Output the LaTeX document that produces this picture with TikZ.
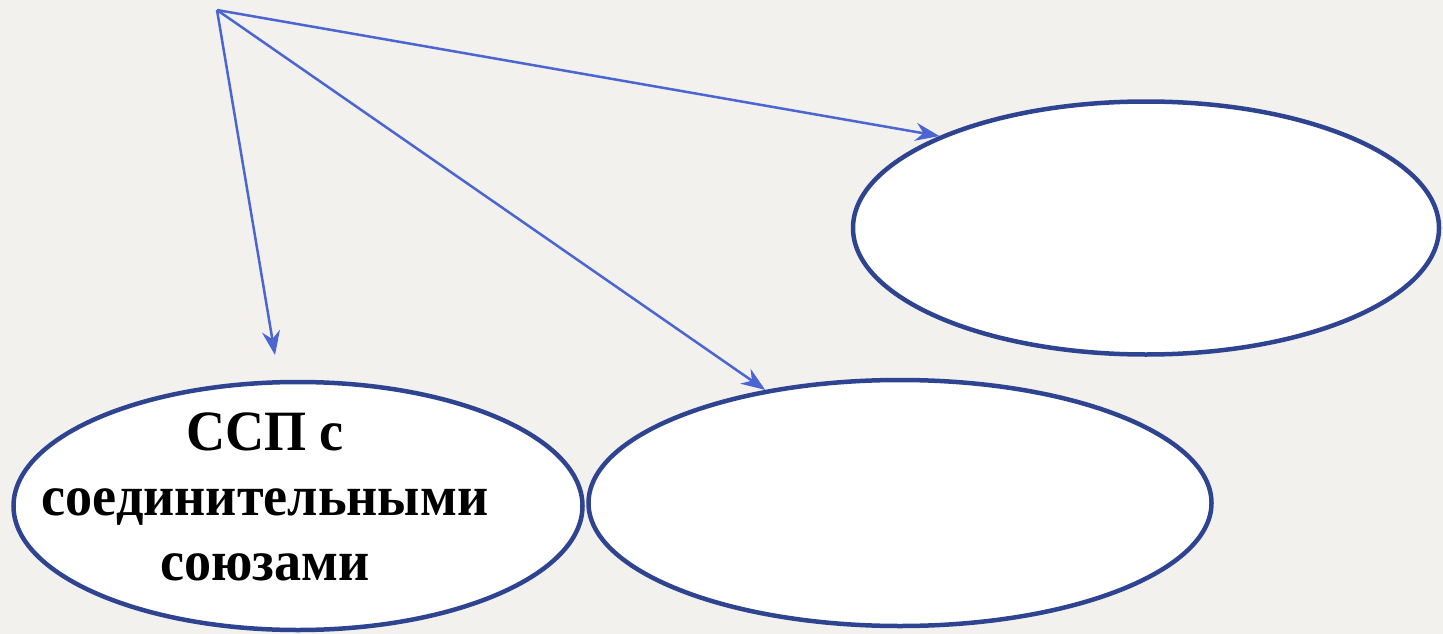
\documentclass[tikz,border=0pt]{standalone}
\usepackage{fontspec}
\setmainfont{Liberation Serif}
\newfontfamily\ovalfont[FakeStretch=0.95]{Liberation Serif}
\usetikzlibrary{shapes.geometric,arrows.meta}
\definecolor{bgcol}{RGB}{242,241,238}
\definecolor{rimcol}{RGB}{47,68,145}
\definecolor{arrcol}{RGB}{75,101,209}
\tikzset{
  oval/.style={ellipse, draw=rimcol, line width=4.5pt, fill=white, inner sep=0pt},
  pointer/.style={draw=arrcol, line width=2.5pt, -{Stealth[length=24pt,width=18pt]}}
}
\begin{document}
\begin{tikzpicture}[x=1pt,y=-1pt]
        % Background
        \fill[bgcol] (0,0) rectangle (1443,634);
        \useasboundingbox (0,0) rectangle (1443,634);

        % Define the ovals
        \node[oval, minimum width=569pt, minimum height=248pt] (E1) at (298,506) {};
        \node[oval, minimum width=623pt, minimum height=246pt] (E2) at (900,503) {};
        \node[oval, minimum width=586pt, minimum height=253pt] (E3) at (1146,228) {};

        \node[align=center, font=\ovalfont\bfseries\fontsize{57}{65}\selectfont] (L1) at (265,497)
            {ССП с\\соединительными\\союзами};

        % Draw arrows
        \coordinate (S) at (217,10);
        \coordinate (T1) at (275,355);
        \draw[pointer] (S) -- (T1);
        \draw[pointer] (S) -- (E2.140);
        \draw[pointer] (S) -- (E3.156);
    \end{tikzpicture}
\end{document}
